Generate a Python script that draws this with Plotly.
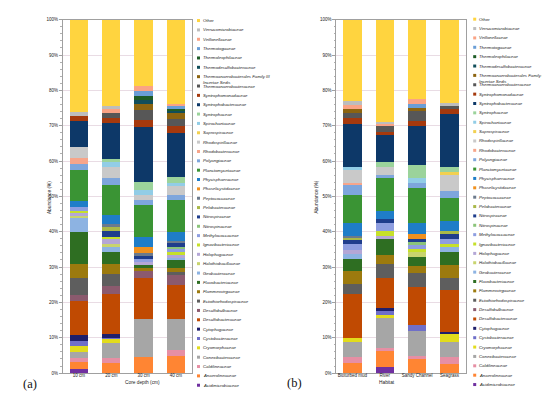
import plotly.graph_objects as go

families = [
    "Acidimicrobiaceae", "Anaerolineaceae", "Caldilineaceae", "Conexibacteraceae",
    "Cryomorphaceae", "Cystobacteraceae", "Cytophagaceae", "Desulfobacteraceae",
    "Desulfobulbaceae", "Ectothiorhodospiraceae", "Flammeovirgaceae", "Flavobacteriaceae",
    "Geobacteraceae", "Halothiobacillaceae", "Holophagaceae", "Ignavibacteriaceae",
    "Methylococcaceae", "Nitrospinaceae", "Nitrospiraceae", "Pelobacteraceae",
    "Peptococcaceae", "Phaselicystidaceae", "Phycisphaeraceae", "Planctomycetaceae",
    "Polyangiaceae", "Rhodobacteraceae", "Rhodospirillaceae", "Saprospiraceae",
    "Spirochaetaceae", "Syntrophaceae", "Syntrophobacteraceae", "Syntrophomonadaceae",
    "Thermoanaerobacteraceae", "Thermoanaerobacterales Family III Incertae Sedis",
    "Thermodesulfobacteraceae", "Thermoleophilaceae", "Thermotogaceae",
    "Veillonellaceae", "Verrucomicrobiaceae", "Other",
]

colors = [
    "#7030A0", "#FF8533", "#E68FA4", "#A6A6A6",
    "#E2DC1C", "#6F6FC8", "#1F1F6B", "#C04A02",
    "#8B5A6E", "#5E5E5E", "#9C7A0E", "#2E6E22",
    "#8DB3E2", "#C8D46E", "#B4A7D6", "#C6E02A",
    "#8E9EE0", "#8BC47A", "#1F3D8C", "#A9B848",
    "#6C7A8C", "#F0901E", "#1F7DC8", "#3A9434",
    "#7EA6DC", "#F7A58A", "#C9C9C9", "#F2D050",
    "#92CDE6", "#9BD39B", "#0D3868", "#A5390D",
    "#575757", "#8C6410", "#114E5A", "#1E5C26",
    "#6A9ED6", "#FAA385", "#BDBDBD", "#FFD43F",
]

depth_labels = ["10 cm", "20 cm", "30 cm", "40 cm"]
habitat_labels = ["Bioturbed mud", "River", "Sandy Channel", "Seagrass"]
y_ticks = [0, 10, 20, 30, 40, 50, 60, 70, 80, 90, 100]

# relative abundance (%) per family, in the order of `families`
depth_10cm = [1.1, 2.1, 1.2, 1.5, 1.8, 1.5, 1.5, 9.6, 1.9, 4.6, 4.1, 8.9, 4.0, 0.7, 0.7, 0.8,
              1.0, 0, 0, 0, 0, 0, 1.6, 8.9, 1.6, 1.7, 3.2, 0, 0, 0, 7.2, 1.5, 0, 0, 0, 0, 0, 0, 1.1, 26.2]
depth_20cm = [0, 2.8, 1.6, 4.0, 1.4, 0.2, 1.0, 11.3, 2.3, 3.3, 3.1, 3.2, 1.6, 0.7, 1.6, 0.5,
              0, 0, 1.6, 1.2, 0.9, 0, 2.4, 8.6, 1.8, 0, 3.3, 0, 1.4, 0.9, 10.1, 1.4, 1.3, 0, 0, 0, 0, 1.1, 1.0, 24.4]
depth_30cm = [0, 4.5, 0, 10.7, 0, 0, 0, 11.8, 2.0, 0, 0.8, 0.7, 0, 0, 0.8, 0,
              0.9, 0, 0.9, 0, 0.9, 1.6, 2.8, 9.3, 1.3, 0, 1.5, 0, 1.4, 2.3, 15.4, 2.0, 2.8, 1.6, 1.2, 1.3, 1.3, 1.4, 0, 18.8]
depth_40cm = [0, 4.7, 1.9, 8.6, 0, 0, 0, 9.8, 2.8, 0.9, 1.0, 2.2, 0.7, 0, 0.9, 0.7,
              1.0, 0.6, 1.2, 0, 0.5, 0, 2.5, 9.1, 1.4, 0, 2.5, 0, 0.8, 1.6, 12.6, 1.9, 1.9, 1.9, 0.5, 0.6, 0.7, 0.7, 0, 23.8]
bioturbed_mud = [0, 2.8, 1.7, 4.3, 1.1, 0, 0, 12.4, 0, 2.9, 3.7, 3.5, 1.4, 0, 0.9, 0,
                 1.9, 0, 1.1, 0.8, 0.4, 0, 3.7, 7.9, 2.8, 0.6, 3.6, 0, 0.9, 0, 12.1, 1.8, 1.4, 1.1, 0, 0, 0, 1.1, 1.1, 23.0]
river = [1.7, 4.9, 0.4, 8.6, 0.7, 1.2, 0.9, 8.4, 0, 4.2, 2.4, 4.6, 0, 0, 0.9, 1.2,
         2.5, 0, 1.0, 0, 0, 0, 2.3, 9.3, 0.9, 0, 2.3, 0, 0, 1.4, 7.6, 0.9, 1.5, 0, 0, 0, 0, 0.7, 0.6, 28.9]
sandy_channel = [0, 4.0, 0.7, 7.2, 0, 1.6, 0, 11.0, 0, 3.7, 2.1, 2.6, 0, 1.3, 0, 1.0,
                 1.4, 0.5, 0.9, 0, 0, 1.4, 3.2, 9.7, 1.4, 0, 0, 0, 1.4, 3.7, 11.2, 1.4, 2.8, 0.9, 0, 0, 1.0, 1.4, 0, 22.5]
seagrass = [0, 2.6, 1.9, 4.3, 2.2, 0, 0.6, 12.0, 0, 3.2, 3.8, 3.7, 1.5, 0, 0, 0.8,
            1.4, 0, 1.4, 0.9, 0, 0, 2.8, 6.4, 1.9, 0, 4.6, 1.0, 0, 1.4, 14.9, 1.4, 0.9, 0, 0, 0, 0, 0, 0.9, 23.5]

W, H = 550, 399
FONT = "Liberation Sans, Arial, sans-serif"
LEG_SIZE = 4.3

fig = go.Figure()
for i, fam in enumerate(families):
    fig.add_trace(go.Bar(
        x=depth_labels,
        y=[depth_10cm[i], depth_20cm[i], depth_30cm[i], depth_40cm[i]],
        name=fam, marker=dict(color=colors[i], line=dict(width=0)),
        xaxis="x", yaxis="y", showlegend=False))
    fig.add_trace(go.Bar(
        x=habitat_labels,
        y=[bioturbed_mud[i], river[i], sandy_channel[i], seagrass[i]],
        name=fam, marker=dict(color=colors[i], line=dict(width=0)),
        xaxis="x2", yaxis="y2", showlegend=False))

# legend markers (one column per panel)
for xa, ya in (("x3", "y3"), ("x4", "y4")):
    fig.add_trace(go.Scatter(
        x=[0] * len(families), y=list(range(len(families))), mode="markers",
        marker=dict(symbol="square", size=3, color=colors, line=dict(width=0)),
        xaxis=xa, yaxis=ya, showlegend=False, hoverinfo="skip", cliponaxis=False))

annotations = []
for xa, ya in (("x3", "y3"), ("x4", "y4")):
    for i, fam in enumerate(families):
        txt = fam if fam == "Other" else "<i>" + fam + "</i>"
        if fam.startswith("Thermoanaerobacterales"):
            txt = "<i>Thermoanaerobacterales Family III<br>Incertae Sedis</i>"
            annotations.append(dict(xref=xa, yref=ya, x=3.5, y=i + 0.38, text=txt,
                                    xanchor="left", yanchor="top", showarrow=False,
                                    align="left", borderpad=0,
                                    font=dict(size=LEG_SIZE, color="#222222", family=FONT)))
        else:
            annotations.append(dict(xref=xa, yref=ya, x=3.5, y=i, text=txt,
                                    xanchor="left", yanchor="middle", showarrow=False,
                                    borderpad=0,
                                    font=dict(size=LEG_SIZE, color="#222222", family=FONT)))

def py(px):
    return (H - px) / H

def pxx(px):
    return px / W

# axis titles and panel labels
annotations += [
    dict(xref="paper", yref="paper", x=pxx(37), y=py(190), text="Abundance (%)", textangle=-90,
         showarrow=False, font=dict(size=4.8, color="#222222", family=FONT)),
    dict(xref="paper", yref="paper", x=pxx(309), y=py(190), text="Abundance (%)", textangle=-90,
         showarrow=False, font=dict(size=4.8, color="#222222", family=FONT)),
    dict(xref="paper", yref="paper", x=pxx(115), y=py(381.5), text="Core depth (cm)",
         showarrow=False, font=dict(size=4.8, color="#222222", family=FONT)),
    dict(xref="paper", yref="paper", x=pxx(388.5), y=py(381.5), text="Habitat",
         showarrow=False, font=dict(size=4.8, color="#222222", family=FONT)),
    dict(xref="paper", yref="paper", x=pxx(13), y=py(388), text="(a)",
         showarrow=False, font=dict(size=12.5, color="#111111", family="Liberation Serif, Times New Roman, serif")),
    dict(xref="paper", yref="paper", x=pxx(286), y=py(387), text="(b)",
         showarrow=False, font=dict(size=12.5, color="#111111", family="Liberation Serif, Times New Roman, serif")),
]

plot_y = [py(367.7), py(9.8)]
common_x = dict(type="category", showline=True, mirror=True, linecolor="#A0A0A0", linewidth=0.8,
                ticks="", ticklabelstandoff=-2,
                tickfont=dict(size=4.5, color="#222222", family=FONT), showgrid=False,
                fixedrange=True)
common_y = dict(range=[0, 100], tickvals=y_ticks, ticktext=[f"{v}%" for v in y_ticks],
                showline=True, mirror=True, linecolor="#A0A0A0", linewidth=0.8,
                ticks="outside", ticklen=3, tickcolor="#A0A0A0", tickwidth=0.6,
                minor=dict(dtick=2, ticks="outside", ticklen=1.5, tickcolor="#B0B0B0", tickwidth=0.5),
                showgrid=True, gridcolor="#E9DCE4", gridwidth=0.6, zeroline=False,
                tickfont=dict(size=4.5, color="#222222", family=FONT))

fig.update_layout(
    width=W, height=H, margin=dict(l=0, r=0, t=0, b=0),
    paper_bgcolor="white", plot_bgcolor="white",
    barmode="stack", bargap=0.43,
    xaxis=dict(domain=[pxx(54.8), pxx(184)], anchor="y", **common_x),
    yaxis=dict(domain=plot_y, anchor="x", **common_y),
    xaxis2=dict(domain=[pxx(328.3), pxx(457.6)], anchor="y2", **common_x),
    yaxis2=dict(domain=plot_y, anchor="x2", **common_y),
    xaxis3=dict(domain=[pxx(190.5), pxx(270.5)], range=[0, 80], visible=False, anchor="y3"),
    yaxis3=dict(domain=[py(380), py(10.7)], range=[0, 39], visible=False, anchor="x3"),
    xaxis4=dict(domain=[pxx(466.7), pxx(546.7)], range=[0, 80], visible=False, anchor="y4"),
    yaxis4=dict(domain=[py(379.3), py(9.3)], range=[0, 39], visible=False, anchor="x4"),
    annotations=annotations,
    showlegend=False,
)

fig.write_html("out.html")
